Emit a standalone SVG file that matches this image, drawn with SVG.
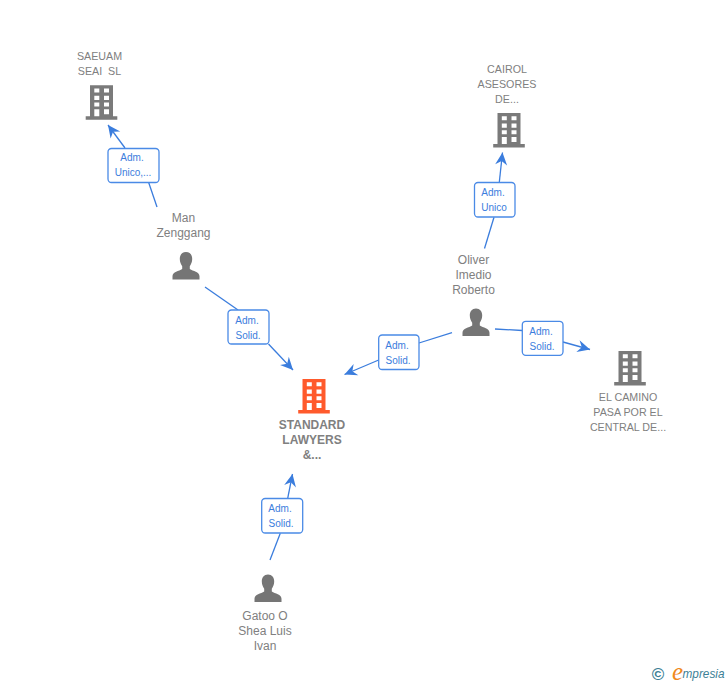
<svg xmlns="http://www.w3.org/2000/svg" width="728" height="685" viewBox="0 0 728 685">
<style>
text{font-family:"Liberation Sans",Arial,sans-serif;text-anchor:middle;fill:#808080;white-space:pre}
.p{font-size:12px}
.c{font-size:10.700px}
.m{font-size:12px;font-weight:bold}
.l{font-size:10px;fill:#3b7ddd}
.b{fill:#fff;stroke:#4a8ae6;stroke-width:1.300}
.e{fill:none;stroke:#3b7ddd;stroke-width:1.300}
</style>
<defs>
<marker id="a" markerUnits="userSpaceOnUse" markerWidth="16" markerHeight="16" refX="13" refY="8" orient="auto">
<path d="M13,8L0.500,2L4.500,8L0.500,14Z" fill="#3b7ddd"/>
</marker>
<g id="bld">
<path fill-rule="evenodd" d="M-11.500,0H11.500V31H15.800V34.500H-15.800V31H-11.500ZM-7.200,3.300V7.300H-2.200V3.300ZM2.500,3.300V7.300H7.500V3.300ZM-7.200,10.500V14.700H-2.200V10.500ZM2.500,10.500V14.700H7.500V10.500ZM-7.200,17.300V21.300H-2.200V17.300ZM2.500,17.300V21.300H7.500V17.300ZM-7.200,24V31H-2.200V24ZM2.500,24V29H7.500V24Z"/>
</g>
<path id="per" d="M0,0C4,0 6.200,3 6.200,7C6.200,10 5,12.500 3.800,14.200V17C7,19 13.500,20 13.500,24.200V27.500H-13.500V24.200C-13.500,20 -7,19 -3.800,17V14.200C-5,12.500 -6.200,10 -6.200,7C-6.200,3 -4,0 0,0Z"/>
</defs>
<g id="connectors">
<path class="e" d="M157,207L148.500,182"/><path class="e" d="M125,148L108,125" marker-end="url(#a)"/>
<path class="e" d="M205,287L238,310"/><path class="e" d="M268.500,344L293,370" marker-end="url(#a)"/>
<path class="e" d="M452,332.700L419,343"/><path class="e" d="M378.700,360L344.500,374.500" marker-end="url(#a)"/>
<path class="e" d="M495,329L522.300,330.500"/><path class="e" d="M563,342L590,349.500" marker-end="url(#a)"/>
<path class="e" d="M270,560L280.300,533.300"/><path class="e" d="M287.700,498.300L292.500,474" marker-end="url(#a)"/>
<path class="e" d="M484.500,248.500L494,217.300"/><path class="e" d="M499.300,182.300L502.500,152.500" marker-end="url(#a)"/>
</g>
<g id="label-1"><rect class="b" x="108" y="148.500" width="51" height="34" rx="3.500"/><text class="l" x="132" y="161">Adm.</text><text class="l" x="133" y="176">Unico,...</text></g>
<g id="label-2"><rect class="b" x="228" y="310" width="41" height="34" rx="3.500"/><text class="l" x="247" y="323.500">Adm.</text><text class="l" x="248" y="338.500">Solid.</text></g>
<g id="label-3"><rect class="b" x="378.700" y="335" width="40.300" height="34.500" rx="3.500"/><text class="l" x="397" y="348.500">Adm.</text><text class="l" x="398" y="363.500">Solid.</text></g>
<g id="label-4"><rect class="b" x="522.300" y="321.300" width="40.700" height="34" rx="3.500"/><text class="l" x="541" y="334.500">Adm.</text><text class="l" x="542" y="349.500">Solid.</text></g>
<g id="label-5"><rect class="b" x="261.700" y="498.500" width="41" height="34.500" rx="3.500"/><text class="l" x="280" y="512">Adm.</text><text class="l" x="281" y="527">Solid.</text></g>
<g id="label-6"><rect class="b" x="474.500" y="182.500" width="40.500" height="34.500" rx="3.500"/><text class="l" x="493" y="196">Adm.</text><text class="l" x="494" y="211">Unico</text></g>
<g id="node-saeuam"><use href="#bld" x="101.500" y="85.300" fill="#7a7a7a"/><text class="c" x="99.500" y="60">SAEUAM</text><text class="c" x="99.500" y="75">SEAI  SL</text></g>
<g id="node-cairol"><use href="#bld" x="509" y="113" fill="#7a7a7a"/><text class="c" x="507" y="73">CAIROL</text><text class="c" x="507" y="88">ASESORES</text><text class="c" x="507" y="103">DE...</text></g>
<g id="node-camino"><use href="#bld" x="630" y="351" fill="#7a7a7a"/><text class="c" x="628" y="401">EL CAMINO</text><text class="c" x="628" y="416">PASA POR EL</text><text class="c" x="628" y="431">CENTRAL DE...</text></g>
<g id="node-standard"><use href="#bld" x="314" y="379" fill="#ff5a2c"/><text class="m" x="312" y="429">STANDARD</text><text class="m" x="312" y="444">LAWYERS</text><text class="m" x="312" y="459">&amp;...</text></g>
<g id="node-man"><use href="#per" x="186" y="252" fill="#757575"/><text class="p" x="183.500" y="222">Man</text><text class="p" x="183.500" y="237">Zenggang</text></g>
<g id="node-oliver"><use href="#per" x="476" y="308.500" fill="#757575"/><text class="p" x="473.500" y="264">Oliver</text><text class="p" x="473.500" y="279">Imedio</text><text class="p" x="473.500" y="294">Roberto</text></g>
<g id="node-gatoo"><use href="#per" x="268" y="574.500" fill="#757575"/><text class="p" x="265" y="620">Gatoo O</text><text class="p" x="265" y="635">Shea Luis</text><text class="p" x="265" y="650">Ivan</text></g>
<g id="logo">
<text x="658" y="679.500" style="font-size:17px;font-weight:bold;fill:#3d7f96">©</text>
<text x="677.500" y="680" style="font-size:25px;font-style:italic;fill:#f08a1d;font-family:'Liberation Serif',serif">e</text>
<text x="703.500" y="678" textLength="42" lengthAdjust="spacingAndGlyphs" style="font-size:13px;font-style:italic;fill:#3d7f96;font-family:'Liberation Sans',sans-serif">mpresia</text>
</g>
</svg>
